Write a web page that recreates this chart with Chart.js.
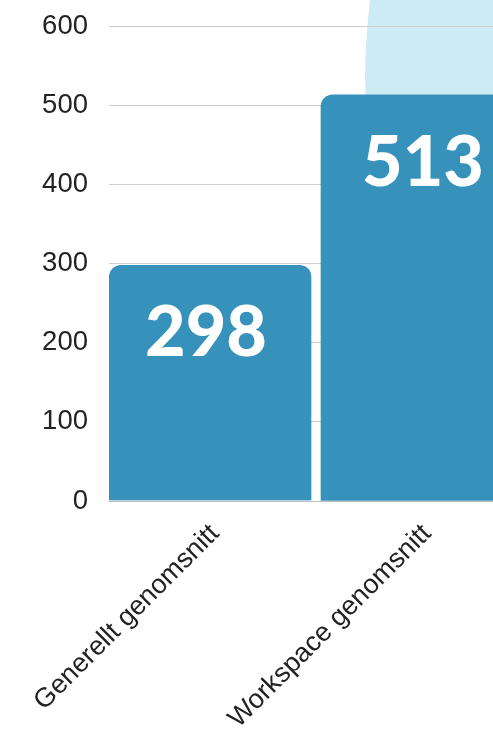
<!DOCTYPE html>
<html>
<head>
<meta charset="utf-8">
<script src="https://cdn.jsdelivr.net/npm/chart.js@4"></script>
<style>
  html,body{margin:0;padding:0;background:#fff;overflow:hidden;width:493px;height:731px}
  #wrap{position:relative;width:493px;height:731px;overflow:hidden}
  #blob{position:absolute;left:365px;top:-521px;width:1200px;height:1200px;border-radius:50%;background:#cdebf5}
  #c{position:absolute;left:0;top:0}
</style>
</head>
<body>
<div id="wrap">
  <div id="blob"></div>
  <canvas id="c" width="540" height="731"></canvas>
</div>
<script>
const categories = ['Generellt genomsnitt', 'Workspace genomsnitt'];
const values = [298, 513];
const yMax = 600;
const yStep = 100;

const barColor = '#3692bb';
const gap = 10;

// white numbers inside the bars
const valueLabels = {
  id: 'valueLabels',
  afterDatasetsDraw(chart) {
    const ctx = chart.ctx;
    const meta = chart.getDatasetMeta(0);
    ctx.save();
    ctx.fillStyle = '#fff';
    ctx.font = '900 70px Lato';
    ctx.textAlign = 'center';
    ctx.textBaseline = 'alphabetic';
    meta.data.forEach((bar, i) => {
      const right = i === 0 ? gap : 0;
      const cx = bar.x - right / 2 - 4;
      ctx.fillText(String(values[i]), cx, bar.y + 91);
    });
    ctx.restore();
  }
};

new Chart(document.getElementById('c'), {
  type: 'bar',
  data: {
    labels: categories,
    datasets: [{
      data: values,
      backgroundColor: barColor,
      borderColor: 'rgba(0,0,0,0)',
      // transparent right border on the first bar makes the gap between them
      borderWidth: c => c.dataIndex === 0 ? {top: 0, right: gap, bottom: 0, left: 0} : 0,
      borderRadius: c => c.dataIndex === 0 ? {topLeft: 12, topRight: 12 + gap} : {topLeft: 12, topRight: 12},
      borderSkipped: 'start',
      barPercentage: 1,
      categoryPercentage: 1
    }]
  },
  options: {
    responsive: false,
    animation: false,
    devicePixelRatio: 1,
    layout: {padding: {top: 26, left: 0, right: 7, bottom: 0}},
    plugins: {legend: {display: false}, tooltip: {enabled: false}},
    scales: {
      x: {
        grid: {display: false},
        border: {display: true, color: '#bdbdbd', width: 1},
        ticks: {
          color: '#222',
          font: {family: 'Liberation Sans, Arial, sans-serif', size: 27},
          maxRotation: 45, minRotation: 45,
          padding: 9
        },
        afterFit: s => { s.height = 230; s.paddingLeft = 0; s.paddingRight = 0; }
      },
      y: {
        min: 0, max: yMax,
        grid: {color: '#cfcfcf', drawTicks: false},
        border: {display: false},
        ticks: {
          stepSize: yStep,
          color: '#222',
          padding: 21,
          font: {family: 'Liberation Sans, Arial, sans-serif', size: 27.5}
        },
        afterFit: s => { s.width = 109; s.paddingTop = 0; s.paddingBottom = 0; }
      }
    }
  },
  plugins: [valueLabels]
});
</script>
</body>
</html>
